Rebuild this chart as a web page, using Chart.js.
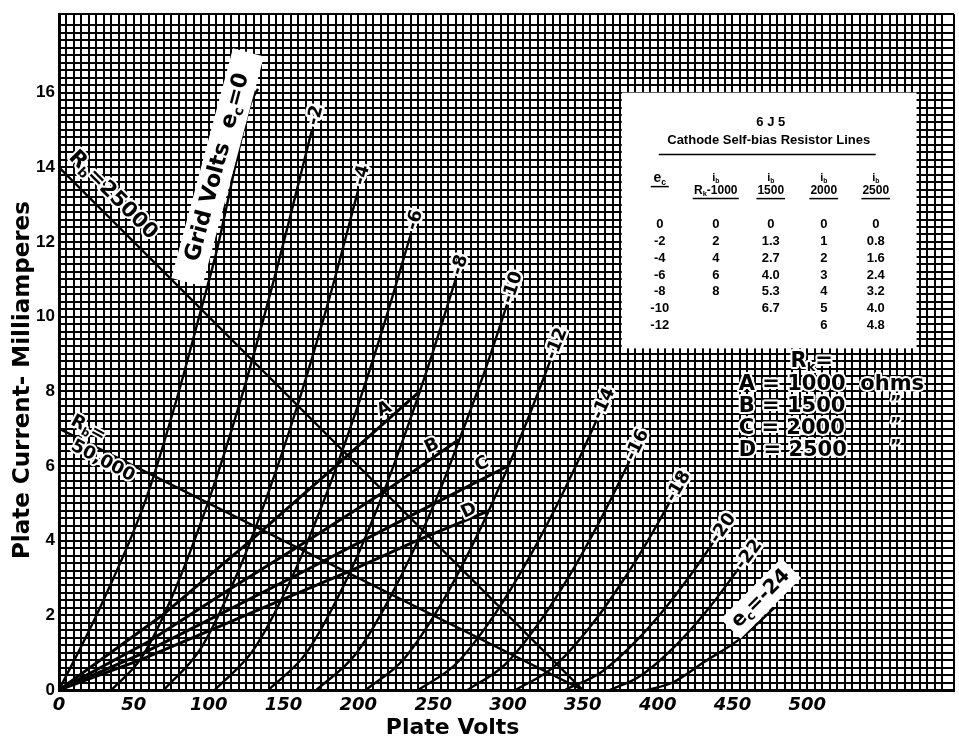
<!DOCTYPE html>
<html>
<head>
<meta charset="utf-8">
<script src="https://cdn.jsdelivr.net/npm/chart.js@4.4.1/dist/chart.umd.min.js"></script>
<style>
  html, body { margin: 0; padding: 0; background: #fff; }
</style>
</head>
<body>
<canvas id="canvas" width="959" height="742"></canvas>
<script>
// grid voltage of each plate curve
var gridVolts = ['0', '-2', '-4', '-6', '-8', '-10', '-12', '-14', '-16', '-18', '-20', '-22', '-24'];

// plate volts / plate milliamperes along each curve
var plateVolts = [
  [0, 25, 58, 78, 95, 105, 128, 133],
  [35, 55, 75, 100, 122, 145, 169],
  [70, 95, 120, 140, 160, 180, 200],
  [104, 130, 155, 178, 200, 218, 235],
  [140, 165, 190, 211, 230, 248, 265],
  [172, 198, 222, 253, 270, 285, 300],
  [205, 230, 255, 275, 289, 310, 329],
  [240, 265, 290, 312, 330, 346, 360],
  [273, 298, 322, 345, 365, 382],
  [305, 330, 355, 375, 393, 409],
  [338, 362, 387, 405, 422, 438],
  [368, 387, 410, 433, 455],
  [393, 410, 431, 455, 478]
];
var plateMA = [
  [0, 2.0, 5.1, 7.7, 10.2, 11.7, 15.7, 16.1],
  [0, 0.86, 2.45, 5.07, 7.85, 11.2, 15.0],
  [0, 1.13, 3.2, 5.3, 7.7, 10.4, 13.4],
  [0, 1.08, 2.96, 5.18, 7.65, 9.9, 12.2],
  [0, 0.98, 2.78, 4.7, 6.72, 8.83, 11.0],
  [0, 0.95, 2.54, 5.2, 6.97, 8.6, 10.4],
  [0, 0.81, 2.28, 3.78, 4.96, 6.93, 8.9],
  [0, 0.69, 1.96, 3.39, 4.74, 6.06, 7.3],
  [0, 0.68, 1.87, 3.33, 4.81, 6.2],
  [0, 0.6, 1.7, 2.82, 3.97, 5.1],
  [0, 0.47, 1.37, 2.19, 3.08, 4.0],
  [0, 0.34, 1.11, 2.13, 3.3],
  [0, 0.2, 0.75, 1.37, 2.2]
];

// cathode self-bias resistor lines A..D
var biasNames = ['A', 'B', 'C', 'D'];
var biasOhms = ['1000', '1500', '2000', '2500'];
var biasVolts = [
  [0, 69, 128, 185, 241],
  [0, 60, 114, 166, 217, 267],
  [0, 57, 106, 155, 203, 251, 300],
  [0, 54, 101, 148, 195, 239, 287]
];
var biasMA = [
  [0, 2, 4, 6, 8],
  [0, 1.3, 2.7, 4.0, 5.3, 6.7],
  [0, 1, 2, 3, 4, 5, 6],
  [0, 0.8, 1.6, 2.4, 3.2, 4.0, 4.8]
];

// plate load lines
var loadNames = ['25000', '50,000'];
var loadVolts = [[0, 350], [0, 350]];
var loadMA = [[14, 0], [7, 0]];

// table printed on the sheet
var tableEc = ['0', '-2', '-4', '-6', '-8', '-10', '-12'];
var tableIb = [
  ['0', '2', '4', '6', '8', '', ''],
  ['0', '1.3', '2.7', '4.0', '5.3', '6.7', ''],
  ['0', '1', '2', '3', '4', '5', '6'],
  ['0', '0.8', '1.6', '2.4', '3.2', '4.0', '4.8']
];

// tick labels
var voltTicks = [0, 50, 100, 150, 200, 250, 300, 350, 400, 450, 500];
var maTicks = [0, 2, 4, 6, 8, 10, 12, 14, 16];

var datasets = [];
plateVolts.forEach(function (vs, k) {
  datasets.push({
    label: 'ec=' + gridVolts[k],
    data: vs.map(function (v, i) { return { x: v, y: plateMA[k][i] }; }),
    showLine: true, borderColor: '#000', borderWidth: 2.4,
    pointRadius: 0, cubicInterpolationMode: 'monotone'
  });
});
biasVolts.forEach(function (vs, k) {
  datasets.push({
    label: biasNames[k],
    data: vs.map(function (v, i) { return { x: v, y: biasMA[k][i] }; }),
    showLine: true, borderColor: '#000', borderWidth: 3, pointRadius: 0, tension: 0
  });
});
loadVolts.forEach(function (vs, k) {
  datasets.push({
    label: 'Rb=' + loadNames[k],
    data: vs.map(function (v, i) { return { x: v, y: loadMA[k][i] }; }),
    showLine: true, borderColor: '#000', borderWidth: 2.4, pointRadius: 0, tension: 0
  });
});

// draw text made of runs, some of them subscripts, centred and rotated
function textRun(ctx, parts, x, y, angle, size, opt) {
  opt = opt || {};
  var fam = opt.family || '"DejaVu Sans"';
  ctx.save();
  ctx.translate(x, y);
  ctx.rotate(angle);
  ctx.textBaseline = 'middle';
  ctx.textAlign = 'left';
  var widths = parts.map(function (p) {
    ctx.font = 'bold ' + (p[1] ? size * 0.62 : size) + 'px ' + fam;
    return ctx.measureText(p[0]).width;
  });
  var total = widths.reduce(function (a, b) { return a + b; }, 0);
  if (opt.box) {
    ctx.fillStyle = '#fff';
    ctx.fillRect(-total / 2 - opt.box[0], -size / 2 - opt.box[1], total + 2 * opt.box[0], size + 2 * opt.box[1]);
  }
  var cx = opt.left ? 0 : -total / 2;
  parts.forEach(function (p, k) {
    ctx.font = 'bold ' + (p[1] ? size * 0.62 : size) + 'px ' + fam;
    var dy = p[1] ? size * 0.3 : 0;
    if (opt.halo) {
      ctx.strokeStyle = '#fff';
      ctx.lineWidth = opt.halo;
      ctx.lineJoin = 'round';
      ctx.strokeText(p[0], cx, dy);
    }
    ctx.fillStyle = '#000';
    ctx.fillText(p[0], cx, dy);
    cx += widths[k];
  });
  ctx.restore();
}

function pt(chart, v, i) {
  return [chart.scales.x.getPixelForValue(v), chart.scales.y.getPixelForValue(i)];
}

var deg = Math.PI / 180;

var sheetPlugin = {
  id: 'sheet',
  beforeDatasetsDraw: function (chart) {
    var ctx = chart.ctx;
    var a = pt(chart, 376, 16.0), b = pt(chart, 573, 9.15);
    ctx.save();
    ctx.fillStyle = '#fff';
    ctx.fillRect(a[0], a[1], b[0] - a[0], b[1] - a[1]);
    ctx.restore();
  },
  afterDraw: function (chart) {
    var ctx = chart.ctx;
    var area = chart.chartArea;

    // curve labels at the top end of each curve
    for (var k = 1; k < gridVolts.length - 1; k++) {
      var n = plateVolts[k].length;
      var p1 = pt(chart, plateVolts[k][n - 1], plateMA[k][n - 1]);
      var p0 = pt(chart, plateVolts[k][n - 2], plateMA[k][n - 2]);
      var ang = Math.atan2(p1[1] - p0[1], p1[0] - p0[0]);
      var d = 15;
      textRun(ctx, [[gridVolts[k]]], p1[0] + Math.cos(ang) * d, p1[1] + Math.sin(ang) * d, ang, 18, { halo: 5 });
    }

    // ec = 0 label, beside the top of the ec = 0 curve
    var g = pt(chart, 106, 14.0);
    textRun(ctx, [['Grid Volts  e'], ['c', 1], ['=0']], g[0], g[1], -75 * deg, 22, { box: [22, 5] });
    // ec = -24 label
    var e = pt(chart, 469, 2.45);
    textRun(ctx, [['e'], ['c', 1], ['=-24']], e[0], e[1], -45 * deg, 20, { box: [6, 4] });

    // load line labels
    var r1 = pt(chart, 36, 13.25);
    textRun(ctx, [['R'], ['b', 1], ['=' + loadNames[0]]], r1[0], r1[1], 45 * deg, 21, { halo: 4 });
    var r2 = pt(chart, 19.5, 7.0);
    textRun(ctx, [['R'], ['b', 1], ['=']], r2[0], r2[1], 28 * deg, 18, { halo: 4 });
    var r3 = pt(chart, 29.3, 6.13);
    textRun(ctx, [[loadNames[1]]], r3[0], r3[1], 28 * deg, 18, { halo: 4 });

    // bias line letters
    var letterAt = [[217.3, 7.52], [249.3, 6.53], [282.7, 6.05], [274, 4.8]];
    biasNames.forEach(function (nm, i) {
      var q = pt(chart, letterAt[i][0], letterAt[i][1]);
      textRun(ctx, [[nm]], q[0], q[1], -25 * deg, 18, { halo: 4 });
    });

    // table in the white box
    var tl = pt(chart, 376, 16.0), br = pt(chart, 573, 9.15);
    var bx = tl[0], by = tl[1];
    var lib = '"Liberation Sans"';
    textRun(ctx, [['6 J 5']], bx + 149, by + 30, 0, 13, { family: lib });
    textRun(ctx, [['Cathode Self-bias Resistor Lines']], bx + 147, by + 48, 0, 13, { family: lib });
    ctx.save();
    ctx.strokeStyle = '#000';
    ctx.lineWidth = 1.5;
    ctx.beginPath();
    ctx.moveTo(bx + 37, by + 62); ctx.lineTo(bx + 254, by + 62);
    ctx.stroke();
    var colX = [38, 94, 149, 202, 254];
    textRun(ctx, [['e'], ['c', 1]], bx + colX[0], by + 86, 0, 14, { family: lib });
    ctx.beginPath();
    ctx.moveTo(bx + colX[0] - 9, by + 94); ctx.lineTo(bx + colX[0] + 9, by + 94);
    ctx.stroke();
    biasOhms.forEach(function (o, i) {
      var cx = bx + colX[i + 1];
      textRun(ctx, [['i'], ['b', 1]], cx, by + 85, 0, 11, { family: lib });
      var parts = i === 0 ? [['R'], ['k', 1], ['-' + o]] : [[o]];
      textRun(ctx, parts, cx, by + 98, 0, 12, { family: lib });
      ctx.font = 'bold 12px ' + lib;
      var w = i === 0 ? 46 : ctx.measureText(o).width + 2;
      ctx.beginPath();
      ctx.moveTo(cx - w / 2, by + 106); ctx.lineTo(cx + w / 2, by + 106);
      ctx.stroke();
    });
    ctx.restore();
    tableEc.forEach(function (ec, r) {
      var yy = by + 132 + r * 16.8;
      textRun(ctx, [[ec]], bx + colX[0], yy, 0, 13, { family: lib });
      tableIb.forEach(function (col, c) {
        if (col[r]) textRun(ctx, [[col[r]]], bx + colX[c + 1], yy, 0, 13, { family: lib });
      });
    });

    // resistor legend below the box
    var lx = bx + 117, ly = br[1];
    textRun(ctx, [['R'], ['k', 1], ['=']], lx + 73, ly + 13, 0, 21, { halo: 4 });
    biasNames.forEach(function (nm, i) {
      var yy = ly + 36 + i * 22;
      textRun(ctx, [[nm + ' = ' + biasOhms[i] + (i === 0 ? '  ohms' : '')]], lx, yy, 0, 21, { halo: 4, left: true });
      if (i > 0) textRun(ctx, [['\u201D']], lx + 157, yy - 3, 0, 18, { halo: 4 });
    });

    // axis titles
    textRun(ctx, [['Plate Volts']], chart.scales.x.getPixelForValue(263), area.bottom + 38, 0, 22, {});
    textRun(ctx, [['Plate Current- Milliamperes']], 23, chart.scales.y.getPixelForValue(8.3), -90 * deg, 23, {});
  }
};

var chart = new Chart(document.getElementById('canvas'), {
  type: 'scatter',
  data: { datasets: datasets },
  options: {
    responsive: false,
    animation: false,
    devicePixelRatio: 1,
    layout: { padding: { top: 11, right: 3, left: 0, bottom: 0 } },
    plugins: { legend: { display: false }, tooltip: { enabled: false } },
    scales: {
      x: {
        type: 'linear', min: 0, max: 598,
        afterFit: function (s) { s.height = 52; },
        grid: { color: '#000', lineWidth: 2, drawTicks: false },
        border: { color: '#000', width: 3 },
        ticks: {
          stepSize: 5, autoSkip: false, maxRotation: 0, padding: 5, color: '#000',
          font: { family: 'DejaVu Sans', size: 18, weight: 'bold', style: 'italic' },
          callback: function (v) { return voltTicks.indexOf(v) >= 0 ? String(v) : ''; }
        }
      },
      y: {
        type: 'linear', min: 0, max: 18.1,
        afterFit: function (s) { s.width = 59; },
        grid: { color: '#000', lineWidth: 2, drawTicks: false },
        border: { color: '#000', width: 3 },
        ticks: {
          stepSize: 0.2, autoSkip: false, padding: 4, color: '#000',
          font: { family: 'Liberation Sans', size: 17, weight: 'bold' },
          callback: function (v) {
            var r = Math.round(v);
            return Math.abs(v - r) < 1e-6 && maTicks.indexOf(r) >= 0 ? String(r) : '';
          }
        }
      }
    }
  },
  plugins: [sheetPlugin]
});
</script>
</body>
</html>
